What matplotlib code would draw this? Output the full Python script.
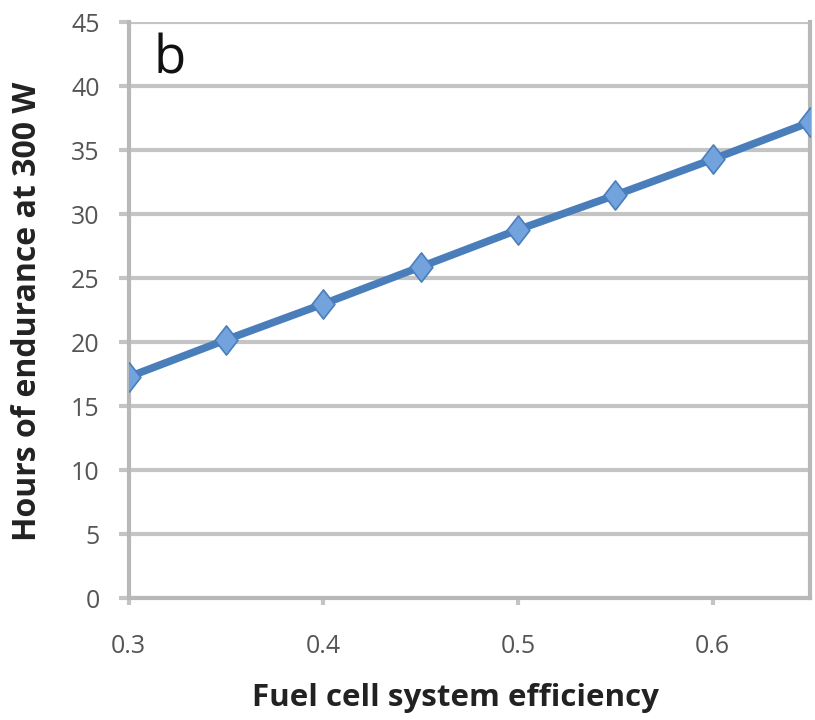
import numpy as np
import matplotlib.pyplot as plt
from matplotlib.path import Path

# data
efficiency = [0.30, 0.35, 0.40, 0.45, 0.50, 0.55, 0.60, 0.65]
hours = [17.3, 20.2, 23.0, 25.9, 28.8, 31.5, 34.3, 37.2]
yticks = [0, 5, 10, 15, 20, 25, 30, 35, 40, 45]
xticks = [0.3, 0.4, 0.5, 0.6]
xticklabels = ['0.3', '0.4', '0.5', '0.6']

plt.rcParams['font.family'] = ['Open Sans', 'DejaVu Sans']

# slightly tall diamond like the excel marker
diamond = Path([(0, 1), (0.78, 0), (0, -1), (-0.78, 0), (0, 1)],
               [Path.MOVETO, Path.LINETO, Path.LINETO, Path.LINETO, Path.CLOSEPOLY])

fig = plt.figure(figsize=(8.15, 7.2), dpi=100)
ax = fig.add_axes([0.158, 0.169, 0.836, 0.800])

ax.plot(efficiency, hours, color='#4a7ebb', lw=5.5, marker=diamond, markersize=21,
        markerfacecolor='#72a3dd', markeredgecolor='#4a7ebb', markeredgewidth=1.2,
        zorder=3)

ax.set_xlim(0.3, 0.65)
ax.set_ylim(0, 45)
ax.set_yticks(yticks)
ax.set_xticks(xticks)
ax.set_xticklabels(xticklabels)
ax.yaxis.grid(True, color='#c4c4c4', lw=3)
ax.set_axisbelow(True)

ax.spines['top'].set_visible(False)
for s in ['left', 'bottom', 'right']:
    ax.spines[s].set_color('#b8b8b8')
    ax.spines[s].set_linewidth(3)

ax.tick_params(axis='y', length=7, width=3, color='#c4c4c4', labelsize=18,
               labelcolor='#555555', pad=14)
ax.tick_params(axis='x', length=5, width=3, color='#c4c4c4', labelsize=18,
               labelcolor='#555555', pad=21)

ax.set_xlabel('Fuel cell system efficiency', fontsize=22.5, fontweight='bold',
              labelpad=17, color='#222222')
ax.xaxis.label.set_x(0.48)
ax.set_ylabel('Hours of endurance at 300 W', fontsize=23, fontweight='bold',
              color='#222222')
ax.yaxis.set_label_coords(-0.124, 0.498)

ax.text(0.06, 0.935, 'b', transform=ax.transAxes, fontsize=38, va='center',
        ha='center', color='#111111')

fig.savefig('out.png', dpi=100)
